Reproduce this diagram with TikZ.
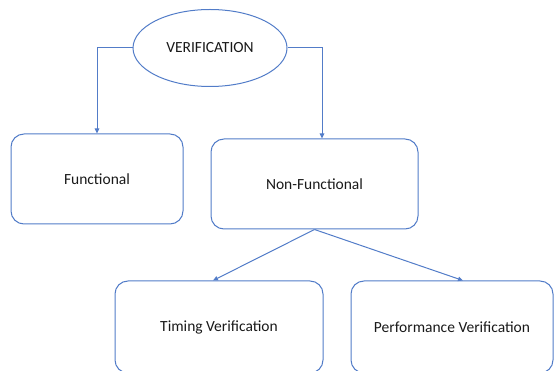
\documentclass[tikz,border=0pt]{standalone}
\usepackage{fontspec}
\setmainfont{Carlito}
\usetikzlibrary{arrows.meta,shapes.geometric}
\definecolor{boxblue}{RGB}{82,124,200}
\begin{document}
\begin{tikzpicture}[x=1pt,y=-1pt,
  every node/.style={font=\fontsize{15.5}{18}\selectfont, text=black!90},
  box/.style={draw=boxblue, line width=1pt, rounded corners=13pt, inner sep=0pt},
  link/.style={draw=boxblue, line width=1pt, -{Triangle[length=5pt,width=4.5pt]}}]
  \useasboundingbox (0,0) rectangle (554,371);
  \clip (0,0) rectangle (554,371);
  % root
  \node[ellipse, draw=boxblue, line width=1pt, minimum width=154pt, minimum height=77pt, inner sep=0pt] (root) at (210,48) {VERIFICATION};
  % first level
  \node[box, minimum width=172pt, minimum height=90pt] (fun) at (97,179) {Functional};
  \node[box, minimum width=207pt, minimum height=90pt] (nfun) at (314.5,184) {Non-Functional};
  % second level
  \node[box, minimum width=208pt, minimum height=92pt] (tim) at (219,327) {Timing Verification};
  \node[box, minimum width=202pt, minimum height=92pt] (perf) at (452,327) {Performance Verification};
  % connectors
  \draw[link] (root.west) -| (fun.north);
  \draw[link] (root.east) -| ([xshift=7.5pt]nfun.north);
  \draw[link] (nfun.south) -- ([xshift=-6pt]tim.north);
  \draw[link] (nfun.south) -- ([xshift=11pt]perf.north);
\end{tikzpicture}
\end{document}
